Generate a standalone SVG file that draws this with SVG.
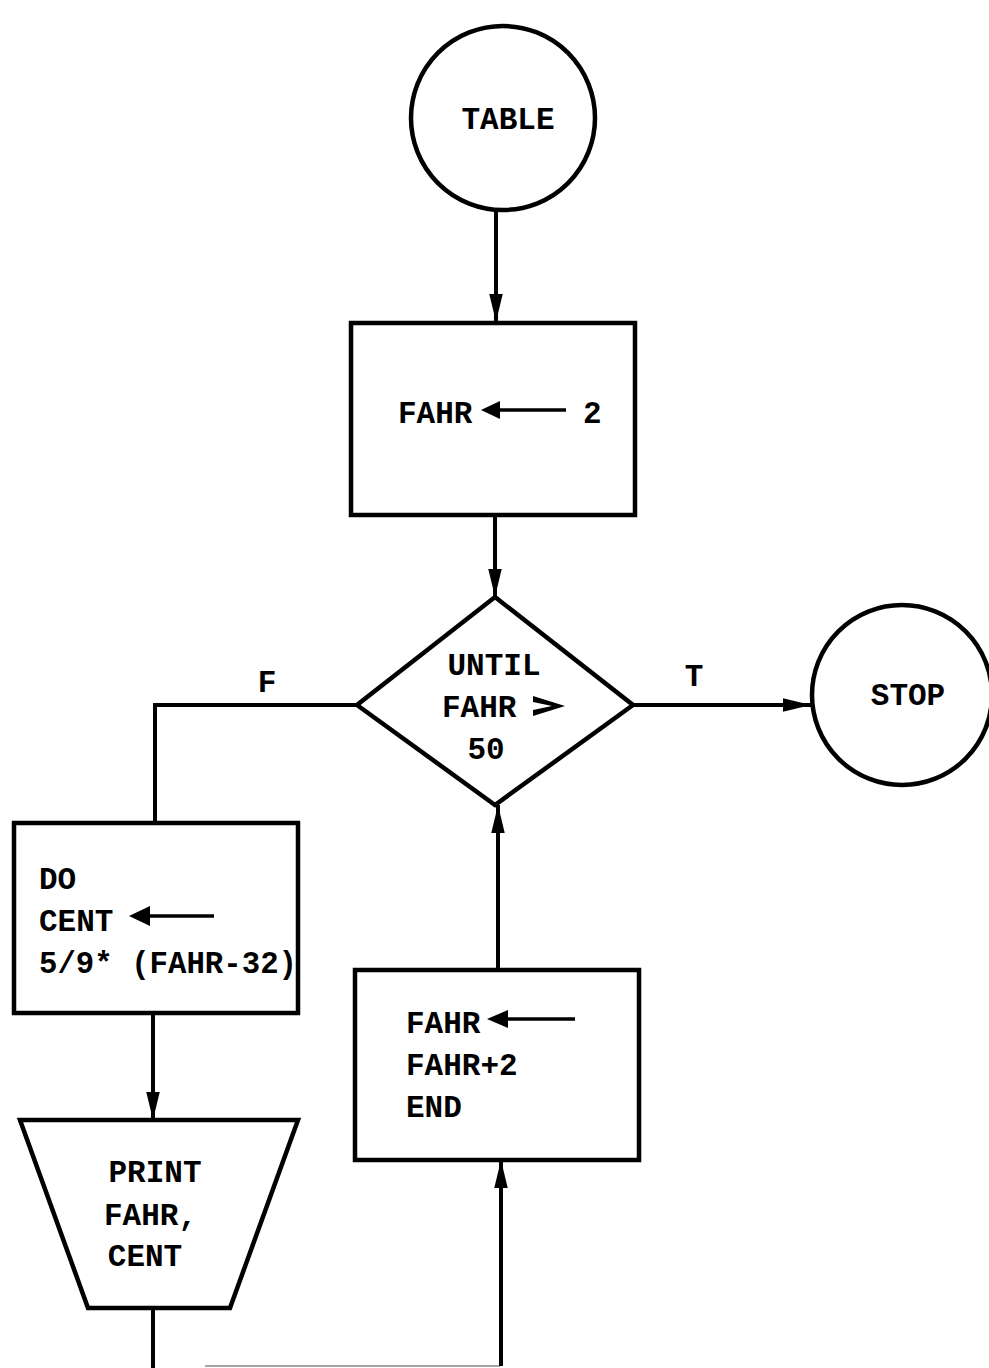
<svg xmlns="http://www.w3.org/2000/svg" width="989" height="1368" viewBox="0 0 989 1368">
<style>
.s{fill:#fff;stroke:#000;stroke-width:4.5}
.t{font-family:"Liberation Mono","DejaVu Sans Mono",monospace;font-weight:bold;font-size:31px;fill:#000}
.c{stroke:#000;stroke-width:4;fill:none}
</style>
<defs>
<marker id="ah" viewBox="0 0 10 10" refX="10" refY="5" markerWidth="7" markerHeight="7" orient="auto" markerUnits="strokeWidth">
<path d="M0,2.6 L10,5 L0,7.4 z" fill="#000"/>
</marker>
</defs>
<rect width="989" height="1368" fill="#fff"/>
<g id="connectors">
<line class="c" x1="496" y1="212" x2="496" y2="322" marker-end="url(#ah)"/>
<line class="c" x1="495" y1="516" x2="495" y2="597" marker-end="url(#ah)"/>
<line class="c" x1="633" y1="705" x2="811" y2="705" marker-end="url(#ah)"/>
<polyline class="c" points="357,705 155,705 155,822"/>
<line class="c" x1="153" y1="1013" x2="153" y2="1120" marker-end="url(#ah)"/>
<polyline class="c" points="153,1308 153,1368"/>
<line x1="205" y1="1366" x2="500" y2="1366" stroke="#000" stroke-width="2" opacity="0.35"/>
<line class="c" x1="501" y1="1366" x2="501" y2="1160" marker-end="url(#ah)"/>
<line class="c" x1="498" y1="970" x2="498" y2="805" marker-end="url(#ah)"/>
<text class="t" x="267" y="692" text-anchor="middle">F</text>
<text class="t" x="694" y="686" text-anchor="middle">T</text>
</g>
<g id="table">
<circle class="s" cx="503" cy="118" r="92"/>
<text class="t" x="508" y="129" text-anchor="middle" font-size="29">TABLE</text>
</g>
<g id="init">
<rect class="s" x="351" y="323" width="284" height="192"/>
<text class="t" x="398" y="423">FAHR</text>
<line x1="486" y1="410" x2="566" y2="410" stroke="#000" stroke-width="3.5"/>
<path d="M481,410 L500,401 L500,419 z" fill="#000"/>
<text class="t" x="583" y="423">2</text>
</g>
<g id="until">
<polygon class="s" points="495,597 633,705 495,805 357,705"/>
<text class="t" x="494" y="675" text-anchor="middle">UNTIL</text>
<text class="t" x="442" y="717">FAHR</text>
<path d="M533,696 L565,706 L533,716 L533,710 L552,706 L533,702 z" fill="#000"/>
<text class="t" x="486" y="759" text-anchor="middle">50</text>
</g>
<g id="stop">
<circle class="s" cx="902" cy="695" r="90"/>
<text class="t" x="908" y="705" text-anchor="middle" font-size="29">STOP</text>
</g>
<g id="do">
<rect class="s" x="14" y="823" width="284" height="190"/>
<text class="t" x="39" y="889">DO</text>
<text class="t" x="39" y="931">CENT</text>
<line x1="134" y1="916" x2="214" y2="916" stroke="#000" stroke-width="3.5"/>
<path d="M129,916 L150,906 L150,926 z" fill="#000"/>
<text class="t" x="39" y="973" textLength="258" lengthAdjust="spacingAndGlyphs">5/9* (FAHR-32)</text>
</g>
<g id="print">
<polygon class="s" points="20,1120 298,1120 230,1308 88,1308"/>
<text class="t" x="155" y="1182" text-anchor="middle">PRINT</text>
<text class="t" x="104" y="1225">FAHR,</text>
<text class="t" x="145" y="1266" text-anchor="middle">CENT</text>
</g>
<g id="incr">
<rect class="s" x="355" y="970" width="284" height="190"/>
<text class="t" x="406" y="1033">FAHR</text>
<line x1="494" y1="1019" x2="575" y2="1019" stroke="#000" stroke-width="3.5"/>
<path d="M487,1019 L508,1010 L508,1028 z" fill="#000"/>
<text class="t" x="406" y="1075">FAHR+2</text>
<text class="t" x="406" y="1117">END</text>
</g>
</svg>
